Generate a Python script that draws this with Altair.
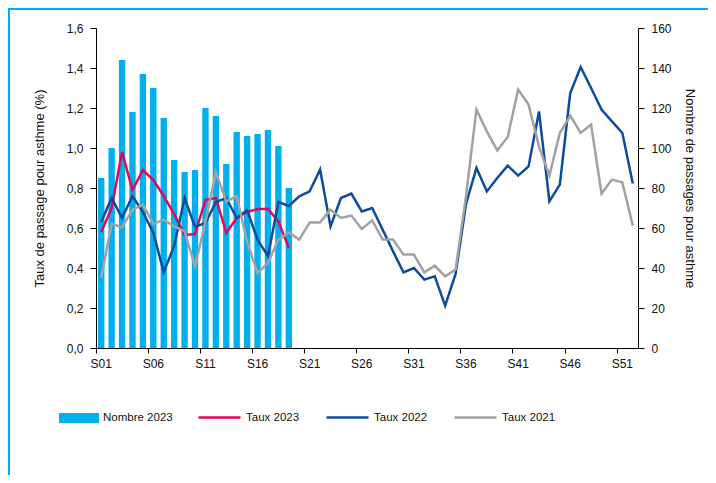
import altair as alt
import pandas as pd

weeks = [f"S{i:02d}" for i in range(1, 53)]
tick_weeks = [f"S{i:02d}" for i in range(1, 53, 5)]

nombre_2023 = [85, 100, 144, 118, 137, 130, 115, 94, 88, 89, 120, 116, 92, 108, 106, 107, 109, 101, 80]

taux_2023 = [0.58, 0.70, 0.98, 0.79, 0.89, 0.84, 0.76, 0.67, 0.565, 0.57, 0.74, 0.75, 0.575, 0.65,
             0.68, 0.695, 0.695, 0.633, 0.50]

taux_2022 = [0.63, 0.75, 0.65, 0.76, 0.68, 0.575, 0.38, 0.51, 0.75, 0.605, 0.625, 0.73, 0.75, 0.65,
             0.69, 0.54, 0.46, 0.73, 0.71, 0.758, 0.783, 0.892, 0.608, 0.75, 0.772, 0.683, 0.70,
             0.592, 0.483, 0.378, 0.40, 0.342, 0.358, 0.212, 0.37, 0.72, 0.90, 0.783, 0.85, 0.912,
             0.862, 0.908, 1.183, 0.733, 0.817, 1.275, 1.405, 1.30, 1.192, 1.133, 1.075, 0.822]

taux_2021 = [0.35, 0.622, 0.603, 0.692, 0.717, 0.62, 0.642, 0.608, 0.583, 0.408, 0.63, 0.878, 0.733,
             0.758, 0.53, 0.375, 0.425, 0.542, 0.578, 0.542, 0.628, 0.628, 0.692, 0.65, 0.662, 0.595,
             0.638, 0.542, 0.542, 0.467, 0.467, 0.378, 0.412, 0.358, 0.392, 0.76, 1.192, 1.083, 0.988,
             1.055, 1.292, 1.217, 1.008, 0.862, 1.075, 1.162, 1.075, 1.117, 0.772, 0.842, 0.828, 0.612]

bar_name = "Nombre 2023"
series_names = ["Taux 2023", "Taux 2022", "Taux 2021"]
line_colors = ["#E2075C", "#0D4C9C", "#A2A2A2"]
bar_color = "#00B0EC"
frame_color = "#00AEEF"

left_ticks = [0.0, 0.2, 0.4, 0.6, 0.8, 1.0, 1.2, 1.4, 1.6]
right_ticks = [0, 20, 40, 60, 80, 100, 120, 140, 160]

FONT_H = "Liberation Sans Narrow, Arial Narrow, Liberation Sans, Arial"
FONT_V = "Liberation Sans, Arial"

bars_df = pd.DataFrame({"semaine": weeks[:len(nombre_2023)], "nombre": nombre_2023, "serie": bar_name})
rows = []
for name, vals in zip(series_names, [taux_2023, taux_2022, taux_2021]):
    for w, v in zip(weeks, vals):
        rows.append({"semaine": w, "taux": v, "serie": name})
lines_df = pd.DataFrame(rows)

x_axis = alt.Axis(values=tick_weeks, bandPosition=0, title=None, labelAngle=0, labelFont=FONT_H,
                  labelFontSize=12, labelColor="#111", tickSize=5, labelPadding=5,
                  domainColor="#000", tickColor="#000", grid=False)
x_enc = alt.X("semaine:N", sort=weeks,
              scale=alt.Scale(domain=weeks, paddingInner=0, paddingOuter=0), axis=x_axis)

frame = alt.Chart(pd.DataFrame({"f": [0]})).mark_rect(
    filled=False, stroke=frame_color, strokeWidth=2
).encode(x=alt.value(-87), x2=alt.value(720), y=alt.value(-19), y2=alt.value(520))

bars = alt.Chart(bars_df).mark_bar(width=alt.RelativeBandSize(0.61)).encode(
    x=x_enc,
    y=alt.Y("nombre:Q", scale=alt.Scale(domain=[0, 160]),
            axis=alt.Axis(orient="right", values=right_ticks, title="Nombre de passages pour asthme",
                          titleFont=FONT_V, titleFontSize=13, titleFontWeight="normal", titleColor="#111",
                          titlePadding=11, labelFont=FONT_H, labelFontSize=12, labelColor="#111",
                          tickSize=6, labelPadding=7, domainColor="#000", tickColor="#000", grid=False)),
    fill=alt.Fill("serie:N", scale=alt.Scale(domain=[bar_name], range=[bar_color]),
                  legend=alt.Legend(title=None, orient="none", legendX=-37, legendY=370,
                                    symbolType="M-1,-0.25H1V0.25H-1Z", symbolSize=1600,
                                    symbolStrokeWidth=0, labelFont=FONT_H, labelFontSize=11.5,
                                    labelColor="#111", labelOffset=4))
)

lines = alt.Chart(lines_df).mark_line(strokeWidth=2.5).encode(
    x=x_enc,
    y=alt.Y("taux:Q", scale=alt.Scale(domain=[0, 1.6]),
            axis=alt.Axis(orient="left", values=left_ticks,
                          labelExpr="replace(format(datum.value, '.1f'), '.', ',')",
                          title="Taux de passage pour asthme (%)", titleFont=FONT_V, titleFontSize=13,
                          titleFontWeight="normal", titleColor="#111", titlePadding=20,
                          labelFont=FONT_H, labelFontSize=12, labelColor="#111", tickSize=6,
                          labelPadding=7, domainColor="#000", tickColor="#000", grid=False)),
    stroke=alt.Stroke("serie:N", sort=series_names,
                      scale=alt.Scale(domain=series_names, range=line_colors),
                      legend=alt.Legend(title=None, orient="none", legendX=101, legendY=367,
                                        direction="horizontal", symbolType="stroke", symbolSize=1764,
                                        symbolStrokeWidth=2.5, columnPadding=21, labelFont=FONT_H,
                                        labelFontSize=11.5, labelColor="#111", labelOffset=4,
                                        gridAlign="all")),
    order=alt.Order("serie:N", sort="descending"),
)

chart = alt.layer(frame, bars, lines).resolve_scale(y="independent").properties(
    width=542, height=320,
    padding={"left": 88, "top": 20, "right": 70, "bottom": 127},
    autosize=alt.AutoSizeParams(type="none"),
).configure_view(stroke=None)

chart.save("out.html", embed_options={"renderer": "svg", "actions": False})
